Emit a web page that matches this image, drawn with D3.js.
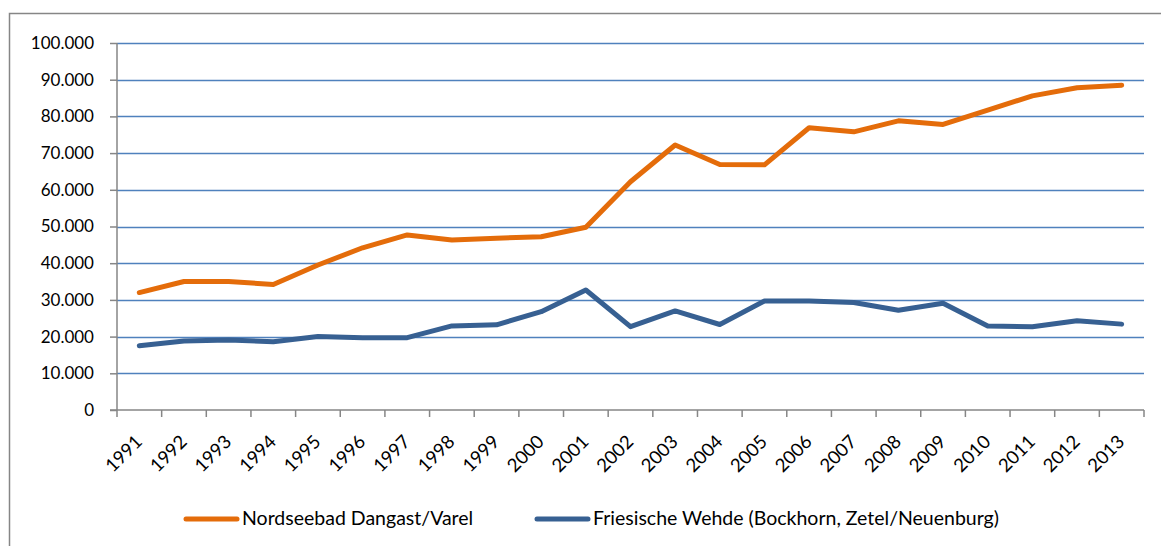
<!DOCTYPE html>
<html><head><meta charset="utf-8">
<script src="https://cdn.jsdelivr.net/npm/d3@7"></script>
<style>body{margin:0;background:#fff}svg{display:block}text{font-family:Lato,"Open Sans",sans-serif;fill:#000}</style>
</head><body><svg id="c" width="1161" height="546"></svg>
<script>
const years = ["1991","1992","1993","1994","1995","1996","1997","1998","1999","2000","2001","2002","2003","2004","2005","2006","2007","2008","2009","2010","2011","2012","2013"];
const dangast = [32000,35000,35000,34200,39500,44200,47700,46300,46800,47200,49800,62200,72200,66900,66800,76900,75800,78800,77800,81700,85600,87800,88500];
const wehde = [17500,18800,19100,18600,20000,19700,19700,22900,23200,26800,32700,22700,27000,23300,29700,29700,29300,27200,29100,22900,22700,24300,23400];
const yTicks = [0,10000,20000,30000,40000,50000,60000,70000,80000,90000,100000];
const seriesNames = ["Nordseebad Dangast/Varel","Friesische Wehde (Bockhorn, Zetel/Neuenburg)"];
const colors = ["#E46C0A","#376092"];

const svg = d3.select("#c");
svg.append("rect").attr("x",9.5).attr("y",13.5).attr("width",1160).attr("height",540)
  .attr("fill","none").attr("stroke","#868686").attr("stroke-width",1.5);

const L=117, R=1144, T=43, B=410;
const x = d3.scaleBand().domain(years).range([L,R]);
const y = d3.scaleLinear().domain([0,100000]).range([B,T]);
const fmt = v => v===0 ? "0" : d3.format(",")(v).replace(/,/g,".");

// gridlines
svg.append("g").selectAll("line").data(yTicks.filter(d=>d>0)).join("line")
  .attr("x1",L).attr("x2",R).attr("y1",d=>Math.round(y(d))+0.5).attr("y2",d=>Math.round(y(d))+0.5)
  .attr("stroke","#4F81BD").attr("stroke-width",1.5);

// y axis
const ya = svg.append("g").attr("transform",`translate(${L},0)`)
  .call(d3.axisLeft(y).tickValues(yTicks).tickFormat(fmt).tickSize(7).tickPadding(16));
ya.attr("font-size",17).attr("font-family","Lato,'Open Sans',sans-serif");
ya.select(".domain").attr("stroke","#868686").attr("stroke-width",1.5).attr("d",`M0,${T}V${B}`);
ya.selectAll(".tick line").attr("stroke","#868686").attr("stroke-width",1.5);
ya.selectAll(".tick text").attr("fill","#000");

// x axis
const xa = svg.append("g").attr("transform",`translate(0,${B})`)
  .call(d3.axisBottom(x).tickSize(0).tickFormat(d=>d));
xa.attr("font-size",18.5).attr("font-family","Lato,'Open Sans',sans-serif");
xa.select(".domain").attr("stroke","#868686").attr("stroke-width",1.5).attr("d",`M${L-7},0H${R}`);
xa.selectAll(".tick text").attr("fill","#000")
  .attr("text-anchor","end").attr("dy",0).attr("y",0)
  .attr("transform","translate(4,33) rotate(-45)");
// category boundary ticks
svg.append("g").selectAll("line").data(years.concat(["end"])).join("line")
  .attr("x1",(d,i)=>L+i*x.step()).attr("x2",(d,i)=>L+i*x.step())
  .attr("y1",B).attr("y2",B+7).attr("stroke","#868686").attr("stroke-width",1.5);

// lines
const line = d3.line().x((d,i)=>x(years[i])+x.bandwidth()/2).y(d=>y(d));
[dangast,wehde].forEach((s,i)=>{
  svg.append("path").datum(s).attr("d",line).attr("fill","none")
    .attr("stroke",colors[i]).attr("stroke-width",5).attr("stroke-linejoin","round").attr("stroke-linecap","round");
});

// legend
const leg = [{x:184},{x:535}];
seriesNames.forEach((n,i)=>{
  const g = svg.append("g");
  g.append("line").attr("x1",leg[i].x+2).attr("x2",leg[i].x+53).attr("y1",519).attr("y2",519)
    .attr("stroke",colors[i]).attr("stroke-width",5).attr("stroke-linecap","round");
  g.append("text").attr("x",leg[i].x+58).attr("y",525).attr("font-size",19.5).text(n);
});
</script></body></html>
